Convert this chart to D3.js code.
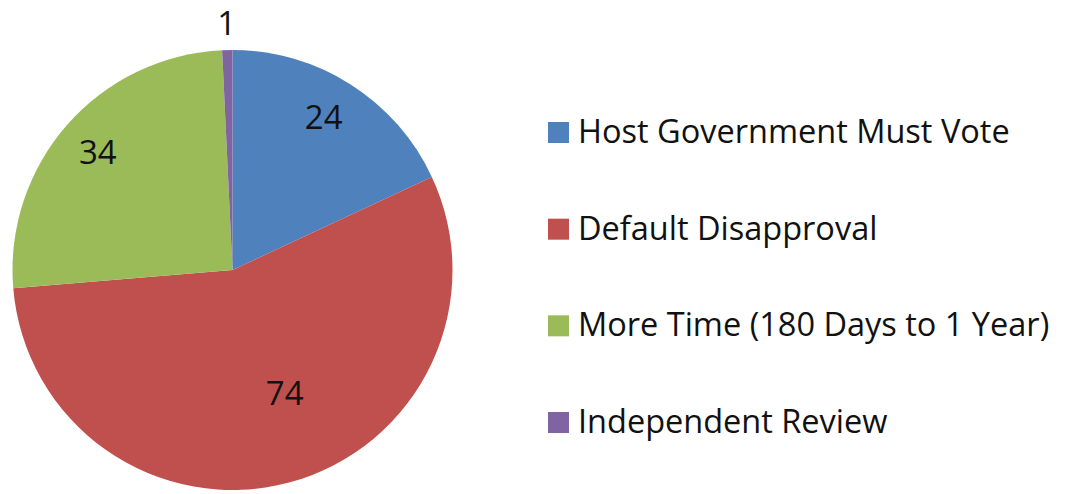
<!DOCTYPE html>
<html>
<head>
<meta charset="utf-8">
<script src="https://cdn.jsdelivr.net/npm/d3@7"></script>
<style>
  html, body { margin: 0; padding: 0; background: #fff; }
  svg { display: block; }
  text { font-family: "Open Sans", "Liberation Sans", sans-serif; fill: #111; }
</style>
</head>
<body>
<svg id="chart" width="1065" height="494"></svg>
<script>
// Responses by option
const categories = ["Host Government Must Vote", "Default Disapproval", "More Time (180 Days to 1 Year)", "Independent Review"];
const values = [24, 74, 34, 1];
const colors = ["#4F81BD", "#C0504D", "#9BBB59", "#8064A2"];

const svg = d3.select("#chart");
const cx = 232.5, cy = 270, R = 220;

const data = categories.map((c, i) => ({ category: c, value: values[i], color: colors[i] }));

const pie = d3.pie().value(d => d.value).sort(null);
const arcs = pie(data);
const arc = d3.arc().innerRadius(0).outerRadius(R);

const g = svg.append("g").attr("transform", `translate(${cx},${cy})`);

g.selectAll("path.slice")
  .data(arcs)
  .join("path")
  .attr("class", "slice")
  .attr("d", arc)
  .attr("fill", d => d.data.color);

// Label placement: radius as a fraction of R, plus an angular nudge (radians)
const labelPlacement = {
  "Host Government Must Vote": { r: 0.81, da: -0.03 },
  "Default Disapproval": { r: 0.61, da: -0.14 },
  "More Time (180 Days to 1 Year)": { r: 0.815, da: 0 },
  "Independent Review": { r: 1.12, da: 0 }
};
const labelSize = 33;
const capH = labelSize * 0.714;

g.selectAll("text.value")
  .data(arcs)
  .join("text")
  .attr("class", "value")
  .attr("text-anchor", "middle")
  .attr("font-size", labelSize)
  .attr("x", d => {
    const p = labelPlacement[d.data.category];
    const a = (d.startAngle + d.endAngle) / 2 + p.da;
    return Math.sin(a) * R * p.r;
  })
  .attr("y", d => {
    const p = labelPlacement[d.data.category];
    const a = (d.startAngle + d.endAngle) / 2 + p.da;
    return -Math.cos(a) * R * p.r + capH / 2;
  })
  .text(d => d.data.value);

// Legend
const legendX = 548, sw = 21;
const legendY = d3.scalePoint().domain(categories).range([143, 433]);
const legendSize = 32.5;

const lg = svg.append("g");
const item = lg.selectAll("g.item")
  .data(data)
  .join("g")
  .attr("class", "item")
  .attr("transform", d => `translate(${legendX},${legendY(d.category)})`);

item.append("rect")
  .attr("x", 0)
  .attr("y", -sw)
  .attr("width", sw)
  .attr("height", sw)
  .attr("fill", d => d.color);

item.append("text")
  .attr("x", 30)
  .attr("y", 0)
  .attr("font-size", legendSize)
  .text(d => d.category);
</script>
</body>
</html>
